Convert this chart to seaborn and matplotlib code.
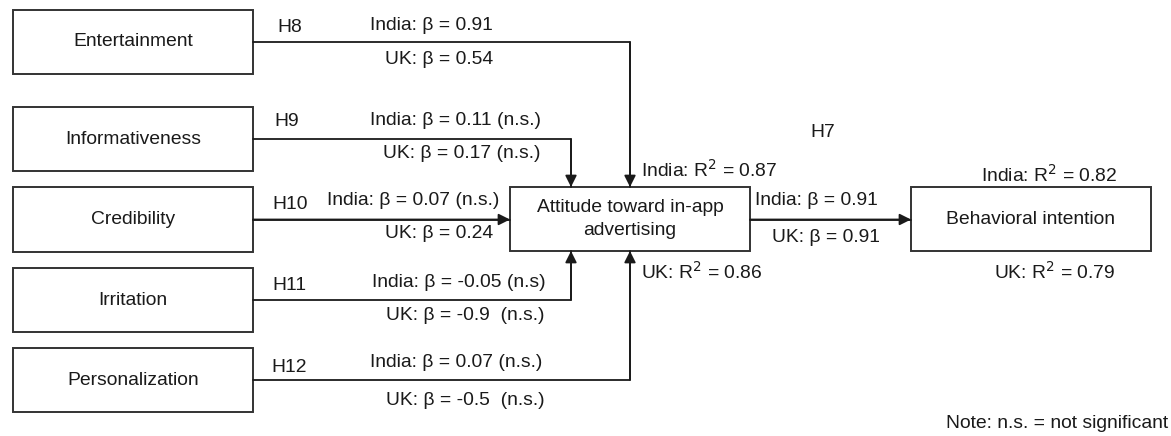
# Path model: antecedents of attitude toward in-app advertising

import pandas as pd
import matplotlib.pyplot as plt
import seaborn as sns
from matplotlib.patches import Rectangle

sns.set_theme(style="white")
plt.rcParams["font.family"] = ["Liberation Sans", "DejaVu Sans"]

# model data
constructs = ["Entertainment", "Informativeness", "Credibility", "Irritation", "Personalization"]
hypotheses = ["H8", "H9", "H10", "H11", "H12"]
india_beta = [0.91, 0.11, 0.07, -0.05, 0.07]
india_note = ["", " (n.s.)", " (n.s.)", " (n.s)", " (n.s.)"]
uk_beta = [0.54, 0.17, 0.24, -0.9, -0.5]
uk_note = ["", " (n.s.)", "", "  (n.s.)", "  (n.s.)"]
mediator = "Attitude toward in-app\nadvertising"
outcome = "Behavioral intention"
h7_india_beta, h7_uk_beta = 0.91, 0.91
r2_mediator = {"India": 0.87, "UK": 0.86}
r2_outcome = {"India": 0.82, "UK": 0.79}

# layout (pixels, y down)
W, H = 1171, 436
BOX_L, BOX_R, BOX_H = 13, 253, 64
row_y = [42, 139, 219.5, 300, 380]
join_x = [630, 571, None, 571, 630]
att = (510, 750, 187, 251)
beh = (911, 1151, 187, 251)
h_xy = [(277, 27), (274, 121), (272, 204), (272, 285), (271, 367)]
india_xy = [(370, 25), (370, 120), (327, 200), (372, 282), (370, 362)]
uk_xy = [(385, 60), (383, 153), (385, 233), (386, 315), (386, 400)]
FS = 13.9
INK = "#1a1a1a"
EDGE = "#333333"

fig = plt.figure(figsize=(W / 100, H / 100), dpi=100)
ax = fig.add_axes([0, 0, 1, 1])
ax.set_xlim(0, W)
ax.set_ylim(H, 0)
ax.axis("off")


def box(x0, x1, y0, y1, label):
    ax.add_patch(Rectangle((x0, y0), x1 - x0, y1 - y0, fill=False, ec=EDGE, lw=1.4))
    ax.text((x0 + x1) / 2, (y0 + y1) / 2, label, ha="center", va="center",
            fontsize=FS, color=INK, linespacing=1.4)


for name, y in zip(constructs, row_y):
    box(BOX_L, BOX_R, y - BOX_H / 2, y + BOX_H / 2, name)
box(*att, mediator)
box(*beh, outcome)

# connector paths
paths = []
for i, (y, jx) in enumerate(zip(row_y, join_x)):
    if jx is None:
        pts = [(BOX_R, y), (att[0], y)]
    else:
        end_y = att[2] if y < att[2] else att[3]
        pts = [(BOX_R, y), (jx, y), (jx, end_y)]
    for k, (px, py) in enumerate(pts):
        paths.append(dict(path=i, order=k, x=px, y=py))
paths.append(dict(path=5, order=0, x=att[1], y=219.5))
paths.append(dict(path=5, order=1, x=beh[0], y=219.5))
paths = pd.DataFrame(paths)

sns.lineplot(data=paths, x="x", y="y", units="path", estimator=None, sort=False,
             color=INK, lw=1.3, ax=ax, legend=False)
for _, p in paths.groupby("path"):
    a, b = p.iloc[-2], p.iloc[-1]
    ax.annotate("", xy=(b.x, b.y), xytext=(a.x, a.y),
                arrowprops=dict(arrowstyle="-|>", color=INK, lw=1.3,
                                mutation_scale=17, shrinkA=0, shrinkB=0))

# path labels
for i in range(len(constructs)):
    ax.text(*h_xy[i], hypotheses[i], ha="left", va="center", fontsize=FS, color=INK)
    ax.text(*india_xy[i], f"India: β = {india_beta[i]:g}{india_note[i]}",
            ha="left", va="center", fontsize=FS, color=INK)
    ax.text(*uk_xy[i], f"UK: β = {uk_beta[i]:g}{uk_note[i]}",
            ha="left", va="center", fontsize=FS, color=INK)

ax.text(810, 132, "H7", ha="left", va="center", fontsize=FS, color=INK)
ax.text(755, 200, f"India: β = {h7_india_beta:g}", ha="left", va="center", fontsize=FS, color=INK)
ax.text(772, 237, f"UK: β = {h7_uk_beta:g}", ha="left", va="center", fontsize=FS, color=INK)
ax.text(641, 170, f"India: R$^2$ = {r2_mediator['India']:g}", ha="left", va="center", fontsize=FS, color=INK)
ax.text(641, 272, f"UK: R$^2$ = {r2_mediator['UK']:g}", ha="left", va="center", fontsize=FS, color=INK)
ax.text(981, 175, f"India: R$^2$ = {r2_outcome['India']:g}", ha="left", va="center", fontsize=FS, color=INK)
ax.text(994, 272, f"UK: R$^2$ = {r2_outcome['UK']:g}", ha="left", va="center", fontsize=FS, color=INK)
ax.text(1168, 423, "Note: n.s. = not significant", ha="right", va="center", fontsize=FS, color=INK)

fig.savefig("out.png", dpi=100)
